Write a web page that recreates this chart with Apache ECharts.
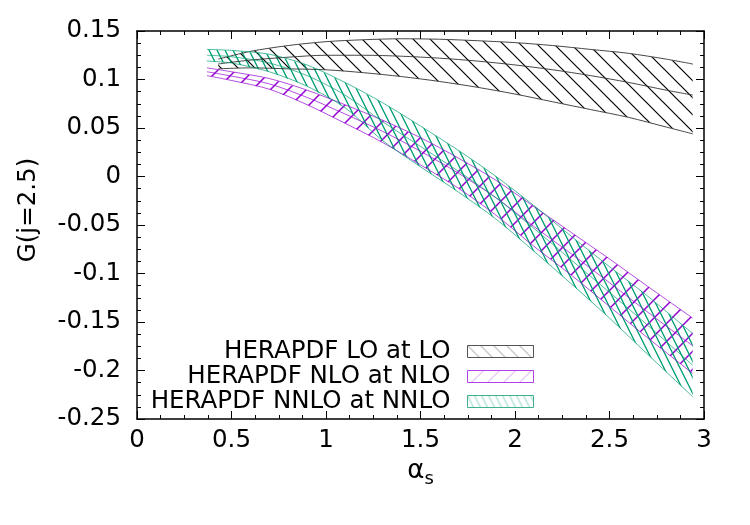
<!DOCTYPE html>
<html><head><meta charset="utf-8">
<script src="https://cdn.jsdelivr.net/npm/echarts@6/dist/echarts.min.js"></script>
<style>html,body{margin:0;padding:0;background:#fff}#c{width:750px;height:525px}</style>
</head><body><div id="c"></div>
<script>
// ---- data ----
const seriesNames = ['HERAPDF LO at LO', 'HERAPDF NLO at NLO', 'HERAPDF NNLO at NNLO'];

const xLO = [0.43, 0.6, 0.8, 1.0, 1.2, 1.4, 1.6, 1.8, 2.0, 2.2, 2.4, 2.6, 2.8, 2.94];
const loUpper  = [0.121, 0.129, 0.135, 0.139, 0.141, 0.142, 0.1415, 0.140, 0.138, 0.135, 0.131, 0.127, 0.121, 0.116];
const loCenter = [0.116, 0.120, 0.123, 0.125, 0.125, 0.124, 0.122, 0.119, 0.115, 0.110, 0.104, 0.097, 0.089, 0.084];
const loLower  = [0.111, 0.112, 0.111, 0.110, 0.107, 0.103, 0.098, 0.092, 0.085, 0.077, 0.069, 0.061, 0.051, 0.044];

const xNLO = [0.37, 0.5, 0.7, 0.9, 1.1, 1.3, 1.5, 1.7, 1.9, 2.1, 2.3, 2.5, 2.7, 2.94];
const nloUpper  = [0.112, 0.108, 0.101, 0.089, 0.074, 0.058, 0.040, 0.019, -0.004, -0.031, -0.058, -0.085, -0.113, -0.146];
const nloCenter = [0.108, 0.1035, 0.0955, 0.0815, 0.0645, 0.0465, 0.026, 0.0035, -0.022, -0.0515, -0.080, -0.1095, -0.1395, -0.1745];
const nloLower  = [0.104, 0.099, 0.090, 0.074, 0.055, 0.035, 0.012, -0.012, -0.040, -0.072, -0.102, -0.134, -0.166, -0.203];

const xNNLO = [0.37, 0.5, 0.7, 0.9, 1.1, 1.3, 1.5, 1.7, 1.9, 2.1, 2.3, 2.5, 2.7, 2.94];
const nnloUpper  = [0.131, 0.130, 0.126, 0.115, 0.097, 0.076, 0.052, 0.027, 0.000, -0.030, -0.062, -0.093, -0.123, -0.162];
const nnloCenter = [0.125, 0.1235, 0.117, 0.104, 0.084, 0.0565, 0.031, 0.0055, -0.022, -0.0535, -0.0865, -0.1195, -0.153, -0.1945];
const nnloLower  = [0.119, 0.117, 0.108, 0.093, 0.071, 0.037, 0.010, -0.016, -0.044, -0.077, -0.111, -0.146, -0.183, -0.227];

// ---- hatch patterns ----
function hatch(color, W, H, dir, lw, alpha) {
  const c = document.createElement('canvas');
  c.width = W; c.height = H;
  const g = c.getContext('2d');
  g.strokeStyle = color; g.globalAlpha = alpha; g.lineWidth = lw;
  g.beginPath();
  for (let k = -2; k <= 2; k++) {
    const x0 = k * W;
    if (dir === 'back') { g.moveTo(x0 - W, -H); g.lineTo(x0 + 2 * W, 2 * H); }
    else { g.moveTo(x0 - W, 2 * H); g.lineTo(x0 + 2 * W, -H); }
  }
  g.stroke();
  return { image: c, repeat: 'repeat' };
}
const colLO = '#000000', colNLO = '#9400d3', colNNLO = '#009e73';
const patLO = hatch(colLO, 17, 17, 'back', 1.2, 1);
const patNLO = hatch(colNLO, 18, 18, 'fwd', 1.5, 1);
const patNNLO = hatch(colNNLO, 8, 16, 'back', 1.3, 1);
const legLO = hatch('#555', 13, 13, 'back', 0.8, 0.8);
const legNLO = hatch(colNLO, 16, 16, 'fwd', 0.8, 0.5);
const legNNLO = hatch(colNNLO, 7, 14, 'back', 0.8, 0.6);

function band(name, xs, up, lo, pat) {
  return {
    type: 'custom', name: name, xAxisIndex: 0, yAxisIndex: 0,
    data: xs.map((x, i) => [x, lo[i], up[i]]),
    renderItem: function (params, api) {
      if (params.dataIndex !== 0) return null;
      const pts = [];
      for (let i = 0; i < xs.length; i++) pts.push(api.coord([xs[i], up[i]]));
      for (let i = xs.length - 1; i >= 0; i--) pts.push(api.coord([xs[i], lo[i]]));
      return { type: 'polygon', shape: { points: pts }, style: { fill: pat, stroke: null } };
    },
    silent: true
  };
}
function line(xs, ys, color, op) {
  return {
    type: 'line', data: xs.map((x, i) => [x, ys[i]]), symbol: 'none', smooth: 0.3,
    lineStyle: { color: color, width: 1, opacity: op }, silent: true
  };
}

const axisCommon = {
  type: 'value', splitLine: { show: false },
  axisLine: { show: true, onZero: false, lineStyle: { color: '#000', width: 1.5 } },
  axisTick: { show: true, inside: true, length: 8, lineStyle: { color: '#000', width: 1 } },
  minorTick: { show: true, splitNumber: 4, length: 4, lineStyle: { color: '#000', width: 1 } }
};
const font = 'DejaVu Sans';
const fs = 24.5;

const chart = echarts.init(document.getElementById('c'), null, { renderer: 'canvas' });
chart.setOption({
  animation: false,
  backgroundColor: '#fff',
  grid: { left: 137, right: 46, top: 31, bottom: 106 },
  xAxis: [
    Object.assign({}, axisCommon, {
      position: 'bottom', min: 0, max: 3, interval: 0.5,
      axisLabel: { fontFamily: font, fontSize: fs, color: '#000', margin: 9 },
      name: '{a|α}{b|s}', nameLocation: 'middle', nameGap: 28,
      nameTextStyle: { fontFamily: font, color: '#000',
        rich: { a: { fontSize: 26, fontFamily: font, color: '#000' },
                b: { fontSize: 18, fontFamily: font, color: '#000', padding: [16, 0, 0, 0] } } }
    }),
    Object.assign({}, axisCommon, { position: 'top', min: 0, max: 3, interval: 0.5, axisLabel: { show: false } })
  ],
  yAxis: [
    Object.assign({}, axisCommon, {
      position: 'left', min: -0.25, max: 0.15, interval: 0.05,
      axisLabel: { fontFamily: font, fontSize: fs, color: '#000', margin: 16 },
      name: 'G(j=2.5)', nameLocation: 'middle', nameGap: 96, nameRotate: 90,
      nameTextStyle: { fontFamily: font, fontSize: fs, color: '#000', padding: [0, 0, 0, 30] }
    }),
    Object.assign({}, axisCommon, { position: 'right', min: -0.25, max: 0.15, interval: 0.05, axisLabel: { show: false } })
  ],
  legend: {
    orient: 'vertical', align: 'right', right: 216, top: 339, padding: 0,
    itemWidth: 66, itemHeight: 12, itemGap: 0, selectedMode: false, icon: 'rect',
    textStyle: { fontFamily: font, fontSize: fs, color: '#000', lineHeight: 24.7, padding: [0, 12, 0, 0] },
    data: [
      { name: seriesNames[0], itemStyle: { color: legLO, borderColor: '#555', borderWidth: 1 } },
      { name: seriesNames[1], itemStyle: { color: legNLO, borderColor: '#b040e8', borderWidth: 1 } },
      { name: seriesNames[2], itemStyle: { color: legNNLO, borderColor: '#40b090', borderWidth: 1 } }
    ]
  },
  series: [
    band(seriesNames[0], xLO, loUpper, loLower, patLO),
    line(xLO, loUpper, '#333', 0.9), line(xLO, loCenter, '#333', 0.9), line(xLO, loLower, '#333', 0.9),
    band(seriesNames[1], xNLO, nloUpper, nloLower, patNLO),
    line(xNLO, nloUpper, colNLO, 0.7), line(xNLO, nloCenter, colNLO, 0.7), line(xNLO, nloLower, colNLO, 0.7),
    band(seriesNames[2], xNNLO, nnloUpper, nnloLower, patNNLO),
    line(xNNLO, nnloUpper, colNNLO, 0.7), line(xNNLO, nnloCenter, colNNLO, 0.7), line(xNNLO, nnloLower, colNNLO, 0.7)
  ]
});
</script>
</body></html>
